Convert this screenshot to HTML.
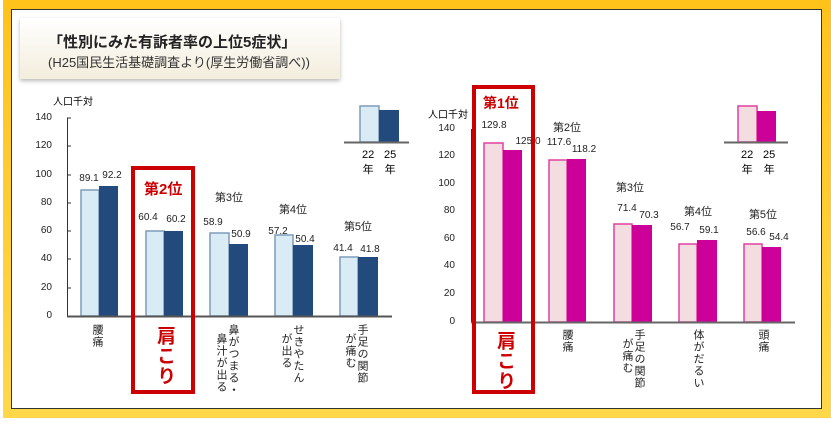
<!DOCTYPE html>
<html><head><meta charset="utf-8"><style>
*{margin:0;padding:0}
body{width:831px;height:440px;background:#fff;position:relative;overflow:hidden;font-family:"Liberation Sans","Noto Sans CJK JP",sans-serif}
.a{position:absolute;white-space:nowrap}
.v{position:absolute;writing-mode:vertical-rl;font-size:11px;line-height:12px;color:#222;letter-spacing:1px}
.n{position:absolute;font-size:10px;color:#222;transform:translateX(-50%)}
.r{position:absolute;font-size:11px;color:#222;transform:translateX(-50%)}
.t{position:absolute;font-size:10px;color:#222;text-align:right;width:30px}
</style></head><body>
<div class="a" style="left:3px;top:0;width:828px;height:418px;background:linear-gradient(#ffc21a,#ffd84a)"></div>
<div class="a" style="left:11px;top:9px;width:809px;height:398px;background:#fff;border:1px solid #333"></div>
<div class="a" style="left:20px;top:18px;width:320px;height:61px;background:linear-gradient(#fff,#f3eddc);box-shadow:0 2px 4px #bbb"></div>
<div class="a" style="left:48px;top:31px;font-size:15px;font-weight:bold;color:#222">「性別にみた有訴者率の上位5症状」</div>
<div class="a" style="left:48px;top:52px;font-size:13px;color:#333">(H25国民生活基礎調査より(厚生労働省調べ))</div>

<svg class="a" style="left:0;top:0" width="831" height="440">
<!-- left axis -->
<line x1="67.5" y1="118" x2="67.5" y2="316" stroke="#333"/>
<g stroke="#333"><line x1="67" y1="118" x2="71" y2="118"/><line x1="67" y1="146" x2="71" y2="146"/><line x1="67" y1="175" x2="71" y2="175"/><line x1="67" y1="203" x2="71" y2="203"/><line x1="67" y1="231" x2="71" y2="231"/><line x1="67" y1="259" x2="71" y2="259"/><line x1="67" y1="288" x2="71" y2="288"/></g>
<g fill="#d9ecf5" stroke="#7f9bb8" stroke-width="1.5">
<rect x="81" y="190" width="18" height="126"/><rect x="146" y="231" width="18" height="85"/><rect x="210" y="233" width="19" height="83"/><rect x="275" y="235" width="18" height="81"/><rect x="340" y="257" width="18" height="59"/>
</g>
<g fill="#234a7c">
<rect x="99" y="186" width="19" height="130"/><rect x="164" y="231" width="19" height="85"/><rect x="229" y="244" width="19" height="72"/><rect x="293" y="245" width="20" height="71"/><rect x="358" y="257" width="20" height="59"/>
</g>
<line x1="67" y1="316.5" x2="392" y2="316.5" stroke="#555" stroke-width="2"/>
<!-- left legend -->
<rect x="360" y="106" width="19" height="36" fill="#d9ecf5" stroke="#7f9bb8" stroke-width="1.5"/>
<rect x="379" y="110" width="20" height="32" fill="#234a7c"/>
<line x1="344" y1="142.5" x2="409" y2="142.5" stroke="#666" stroke-width="2"/>
<!-- right axis -->
<line x1="471.5" y1="129" x2="471.5" y2="322" stroke="#333"/>
<g fill="#f3dde0" stroke="#e040a0" stroke-width="1.5">
<rect x="484" y="143" width="19" height="179"/><rect x="549" y="160" width="18" height="162"/><rect x="614" y="224" width="18" height="98"/><rect x="679" y="244" width="18" height="78"/><rect x="744" y="244" width="18" height="78"/>
</g>
<g fill="#cc0099">
<rect x="503" y="150" width="19" height="172"/><rect x="567" y="159" width="19" height="163"/><rect x="632" y="225" width="20" height="97"/><rect x="697" y="240" width="20" height="82"/><rect x="762" y="247" width="19" height="75"/>
</g>
<line x1="471" y1="322.5" x2="795" y2="322.5" stroke="#666" stroke-width="2"/>
<rect x="738" y="106" width="19" height="36" fill="#f3dde0" stroke="#e040a0" stroke-width="1.5"/>
<rect x="757" y="111" width="19" height="31" fill="#cc0099"/>
<line x1="724" y1="142.5" x2="788" y2="142.5" stroke="#666" stroke-width="2"/>
<!-- red boxes -->
<rect x="133" y="168" width="60" height="224" fill="none" stroke="#cc0000" stroke-width="4"/>
<rect x="474" y="87" width="59" height="305" fill="none" stroke="#cc0000" stroke-width="4"/>
</svg>

<!-- left ticks -->
<div class="a" style="left:53px;top:93px;font-size:10px">人口千対</div>
<div class="t" style="left:22px;top:112px">140</div><div class="t" style="left:22px;top:140px">120</div><div class="t" style="left:22px;top:169px">100</div><div class="t" style="left:22px;top:197px">80</div><div class="t" style="left:22px;top:225px">60</div><div class="t" style="left:22px;top:253px">40</div><div class="t" style="left:22px;top:282px">20</div><div class="t" style="left:22px;top:310px">0</div>
<div class="n" style="left:89px;top:173px">89.1</div><div class="n" style="left:112px;top:170px">92.2</div>
<div class="n" style="left:148px;top:212px">60.4</div><div class="n" style="left:176px;top:214px">60.2</div>
<div class="n" style="left:213px;top:217px">58.9</div><div class="n" style="left:241px;top:229px">50.9</div>
<div class="n" style="left:278px;top:226px">57.2</div><div class="n" style="left:305px;top:234px">50.4</div>
<div class="n" style="left:343px;top:243px">41.4</div><div class="n" style="left:370px;top:244px">41.8</div>
<div class="a" style="left:144px;top:178px;font-size:15px;font-weight:bold;color:#cc0000">第2位</div>
<div class="r" style="left:229px;top:189px">第3位</div><div class="r" style="left:293px;top:201px">第4位</div><div class="r" style="left:358px;top:218px">第5位</div>
<div class="a" style="left:362px;top:148px;font-size:11px;line-height:15px;text-align:center">22<br>年</div>
<div class="a" style="left:384px;top:148px;font-size:11px;line-height:15px;text-align:center">25<br>年</div>
<div class="v" style="left:91px;top:324px">腰痛</div>
<div class="v" style="left:153px;top:326px;font-size:19px;line-height:22px;font-weight:bold;color:#cc0000">肩こり</div>
<div class="v" style="left:227px;top:324px">鼻がつまる・</div><div class="v" style="left:215px;top:333px">鼻汁が出る</div>
<div class="v" style="left:292px;top:324px">せきやたん</div><div class="v" style="left:280px;top:333px">が出る</div>
<div class="v" style="left:356px;top:324px">手足の関節</div><div class="v" style="left:344px;top:333px">が痛む</div>

<!-- right -->
<div class="a" style="left:428px;top:106px;font-size:10px">人口千対</div>
<div class="t" style="left:425px;top:123px">140</div><div class="t" style="left:425px;top:150px">120</div><div class="t" style="left:425px;top:178px">100</div><div class="t" style="left:425px;top:205px">80</div><div class="t" style="left:425px;top:233px">60</div><div class="t" style="left:425px;top:260px">40</div><div class="t" style="left:425px;top:288px">20</div><div class="t" style="left:425px;top:316px">0</div>
<div class="a" style="left:483px;top:93px;font-size:14px;font-weight:bold;color:#cc0000">第1位</div>
<div class="n" style="left:494px;top:120px">129.8</div><div class="n" style="left:528px;top:136px">125.0</div>
<div class="n" style="left:559px;top:137px">117.6</div><div class="n" style="left:584px;top:144px">118.2</div>
<div class="n" style="left:627px;top:203px">71.4</div><div class="n" style="left:649px;top:210px">70.3</div>
<div class="n" style="left:680px;top:222px">56.7</div><div class="n" style="left:709px;top:225px">59.1</div>
<div class="n" style="left:756px;top:227px">56.6</div><div class="n" style="left:779px;top:232px">54.4</div>
<div class="r" style="left:567px;top:119px">第2位</div><div class="r" style="left:630px;top:179px">第3位</div><div class="r" style="left:698px;top:203px">第4位</div><div class="r" style="left:763px;top:206px">第5位</div>
<div class="a" style="left:741px;top:148px;font-size:11px;line-height:15px;text-align:center">22<br>年</div>
<div class="a" style="left:763px;top:148px;font-size:11px;line-height:15px;text-align:center">25<br>年</div>
<div class="v" style="left:493px;top:331px;font-size:19px;line-height:22px;font-weight:bold;color:#cc0000">肩こり</div>
<div class="v" style="left:561px;top:329px">腰痛</div>
<div class="v" style="left:633px;top:329px">手足の関節</div><div class="v" style="left:621px;top:338px">が痛む</div>
<div class="v" style="left:692px;top:329px">体がだるい</div>
<div class="v" style="left:757px;top:329px">頭痛</div>
</body></html>
